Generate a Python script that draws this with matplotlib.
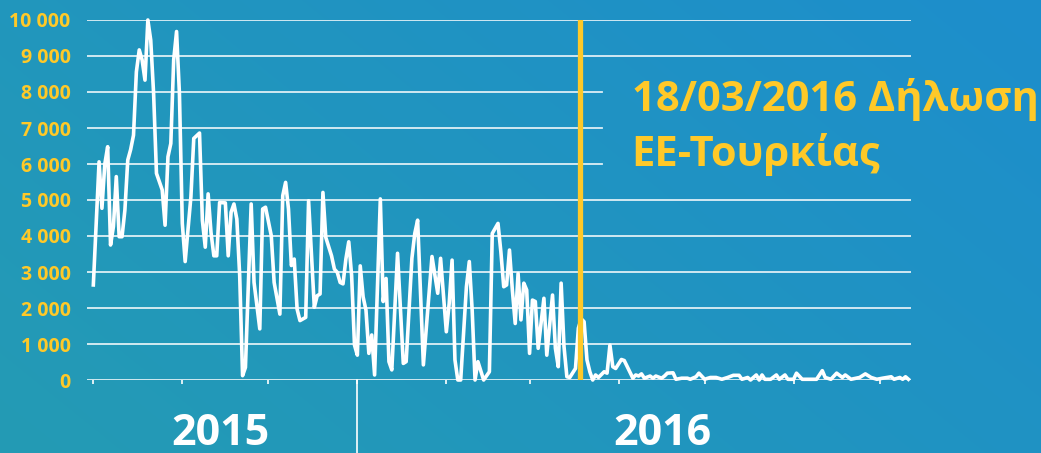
import numpy as np
import pandas as pd
import matplotlib
matplotlib.use("Agg")
import matplotlib.pyplot as plt
import matplotlib.dates as mdates
import matplotlib.transforms as mtransforms

plt.rcParams['font.family'] = ['Open Sans', 'DejaVu Sans']

# ημέρες από 1/10/2015 και ημερήσιες αφίξεις (τιμές διαβασμένες από το γράφημα)
days = [0, 2, 3, 4, 5, 6, 7, 8, 9, 10, 11, 12, 13, 14, 15, 16, 17, 18, 19, 20,
        21, 22, 24, 25, 26, 27, 28, 29, 30, 31, 32, 34, 35, 37, 38, 39, 40, 41, 42, 43,
        44, 46, 47, 48, 49, 50, 51, 52, 53, 55, 56, 58, 59, 60, 62, 63, 65, 66, 67, 68,
        69, 70, 71, 72, 74, 75, 77, 78, 79, 80, 81, 83, 84, 85, 86, 87, 88, 89, 90, 91,
        92, 93, 94, 95, 96, 97, 98, 100, 101, 102, 103, 104, 106, 108, 109, 111, 112, 113, 115, 118,
        119, 120, 121, 123, 124, 125, 126, 127, 128, 130, 131, 132, 133, 134, 136, 138, 139, 141, 142, 143,
        144, 145, 146, 147, 148, 149, 150, 151, 152, 153, 154, 155, 157, 158, 160, 161, 162, 163, 164, 165,
        166, 168, 169, 170, 171, 172, 173, 174, 175, 176, 178, 179, 180, 181, 182, 184, 185, 188, 189, 190,
        191, 192, 194, 195, 196, 198, 199, 200, 202, 203, 205, 207, 208, 210, 211, 213, 215, 217, 219, 221,
        223, 225, 226, 228, 229, 231, 232, 233, 234, 236, 238, 239, 241, 242, 244, 245, 247, 250, 252, 254,
        255, 257, 259, 261, 262, 264, 267, 269, 271, 273, 275, 278, 279, 281, 282, 283, 284]
arrivals = [2640, 6060, 4770, 6000, 6480, 3750, 4260, 5650, 3980, 3980, 4720, 6110, 6400, 6800, 8560, 9170, 8890, 8330, 10000, 9440,
            7960, 5740, 5280, 4300, 6200, 6570, 8890, 9680, 7960, 4350, 3290, 5090, 6710, 6860, 4430, 3690, 5170, 4100, 3450, 3450,
            4930, 4920, 3450, 4660, 4890, 4470, 2900, 120, 350, 4890, 2710, 1420, 4750, 4800, 4010, 2710, 1830, 5120, 5490, 4750,
            3180, 3360, 1970, 1650, 1740, 4980, 2020, 2340, 2390, 5210, 3960, 3450, 3080, 2990, 2710, 2670, 3360, 3840, 2900, 970,
            690, 3170, 2310, 1940, 740, 1250, 140, 5030, 2180, 2820, 510, 280, 3520, 460, 510, 3380, 4070, 4440, 420, 3430,
            2920, 2410, 3380, 1340, 2130, 3330, 560, 0, 0, 2590, 3290, 1940, 0, 510, 0, 230, 4070, 4350, 3560, 2590,
            2640, 3610, 2500, 1570, 2960, 1670, 2690, 2500, 740, 2220, 2180, 880, 2270, 690, 2360, 880, 370, 2690, 930, 90,
            70, 320, 1440, 1700, 1620, 560, 230, 0, 140, 70, 230, 190, 970, 370, 320, 570, 540, 50, 140, 110,
            170, 50, 110, 50, 110, 50, 110, 190, 200, 20, 50, 50, 20, 90, 190, 20, 70, 70, 20, 70,
            130, 130, 20, 70, 0, 140, 0, 140, 20, 20, 140, 20, 140, 20, 20, 190, 20, 20, 20, 260,
            70, 20, 190, 70, 140, 20, 70, 170, 70, 20, 50, 90, 20, 70, 20, 90, 20]

y_ticks = [0, 1000, 2000, 3000, 4000, 5000, 6000, 7000, 8000, 9000, 10000]
y_labels = ['0', '1 000', '2 000', '3 000', '4 000', '5 000', '6 000', '7 000', '8 000', '9 000', '10 000']
years = ['2015', '2016']
event_date = '2016-03-18'
event_lines = ['18/03/2016 Δήλωση', 'ΕΕ-Τουρκίας']

YELLOW = '#FFC928'
start = pd.Timestamp('2015-10-01')
dates = start + pd.to_timedelta(days, unit='D')

fig = plt.figure(figsize=(10.41, 4.53), dpi=100)

# φόντο με διαβάθμιση
bg = fig.add_axes([0, 0, 1, 1])
yy, xx = np.mgrid[0:1:453j, 0:1:1041j]
t = np.clip(0.65 * xx + 0.35 * (1 - yy), 0, 1)
c1 = np.array([36, 155, 180]) / 255
c2 = np.array([29, 142, 204]) / 255
bg.imshow(c1 + (c2 - c1) * t[..., None], aspect='auto', extent=[0, 1, 0, 1])
bg.axis('off')

ax = fig.add_axes([87.3 / 1041, 73 / 453, 823.4 / 1041, 360 / 453])
ax.set_facecolor('none')

# οριζόντιες γραμμές (κόβονται πίσω από το κείμενο)
for v in y_ticks:
    xmax = 0.625 if 6000 <= v <= 8000 else 1.0
    ax.axhline(v, xmin=0, xmax=xmax, color='white', lw=1.3, alpha=0.85, zorder=1)

ax.plot(dates, arrivals, color='white', lw=2.6, zorder=3, clip_on=False)
ax.axvline(pd.Timestamp(event_date) + pd.Timedelta(hours=16), color=YELLOW, lw=3.8, zorder=4)

ax.set_xlim(start - pd.Timedelta(days=2.1), start + pd.Timedelta(days=284.8))
ax.set_ylim(0, 10000)
ax.set_yticks(y_ticks)
ax.set_yticklabels(y_labels, color=YELLOW, fontsize=14, fontweight='bold')
ax.xaxis.set_major_locator(mdates.MonthLocator())
ax.xaxis.set_major_formatter(plt.NullFormatter())
ax.tick_params(axis='y', length=0, pad=12)
ax.tick_params(axis='x', length=3, width=1.2, color='white', direction='out')
for s in ax.spines.values():
    s.set_visible(False)

# διαχωριστική γραμμή ετών
trans = mtransforms.blended_transform_factory(ax.transData, ax.transAxes)
jan1 = pd.Timestamp('2016-01-01')
ax.plot([jan1, jan1], [0, -0.21], transform=trans, color='white', lw=1.2, clip_on=False)

fig.text(220 / 1041, 1 - 445 / 453, years[0], ha='center', va='baseline',
         color='white', fontsize=31, fontweight='bold')
fig.text(662.5 / 1041, 1 - 445 / 453, years[1], ha='center', va='baseline',
         color='white', fontsize=31, fontweight='bold')

fig.text(631.7 / 1041, 1 - 111 / 453, event_lines[0], ha='left', va='baseline',
         color=YELLOW, fontsize=30, fontweight='bold')
fig.text(631.7 / 1041, 1 - 166 / 453, event_lines[1], ha='left', va='baseline',
         color=YELLOW, fontsize=30, fontweight='bold')

fig.savefig('out.png', dpi=100)
